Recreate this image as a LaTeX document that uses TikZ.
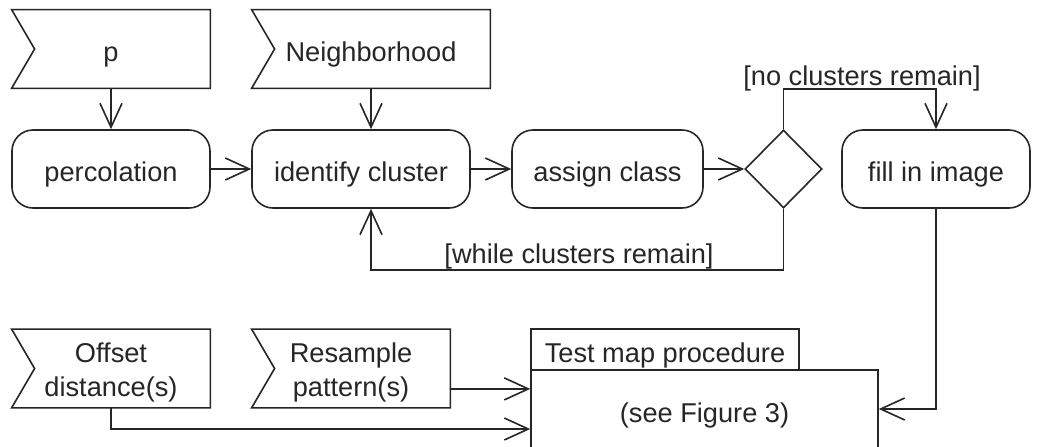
\documentclass[tikz,border=0pt]{standalone}
\usepackage{fontspec}
\setmainfont{Liberation Sans}
\usetikzlibrary{arrows.meta,shapes.geometric,calc}
\definecolor{ink}{HTML}{262626}
\begin{document}
\begin{tikzpicture}[x=0.5pt,y=-0.5pt,
  every node/.style={font=\fontsize{13.6}{17}\selectfont, text=ink, inner sep=0pt},
  one/.style={text height=13.5pt, text depth=1pt},
  line/.style={draw=ink, line width=0.8pt},
  arr/.style={line, -{Straight Barb[length=12pt,width=11pt,line width=0.8pt]}},
  sig/.style={minimum height=39pt, align=center},
  act/.style={line, one, rounded corners=10.5pt, minimum height=39pt},
  dec/.style={line, diamond, minimum width=38.5pt, minimum height=39pt},
  lbl/.style={one}
]
\clip (0,0) rectangle (1039,446);
\fill[white] (0,0) rectangle (1039,446);

% signal (input) boxes
\node[sig, one, minimum width=99pt] (p) at (111,49) {p};
\node[sig, one, minimum width=119pt] (nb) at (371,49) {Neighborhood};
\node[sig, minimum width=99pt] (off) at (111,368.5) {};
\node[sig, minimum width=99pt] (res) at (351,368.5) {};
\node[align=center] (offt) at (111,372.5) {Offset\\distance(s)};
\node[align=center] (rest) at (351,372.5) {Resample\\pattern(s)};
\foreach \n in {p,nb,off,res}
  \draw[line] (\n.north west) -- (\n.north east) -- (\n.south east) -- (\n.south west) -- ($(\n.west)+(23,0)$) -- cycle;

% actions
\node[act, minimum width=99pt] (perc) at (111,169) {percolation};
\node[act, minimum width=109pt] (idc) at (361,169) {identify cluster};
\node[act, minimum width=95.5pt] (asg) at (607.5,169) {assign class};
\node[dec] (d) at (783.5,169) {};
\node[act, minimum width=94pt] (fill) at (936,169) {fill in image};

% test map procedure
\node[line, one, minimum width=134pt, minimum height=20.5pt] (tab) at (665,349.5) {Test map procedure};
\node[line, minimum width=173.5pt, minimum height=39pt] (tm) at (704.5,409) {};
\node[one] (tmt) at (704.5,410) {(see Figure 3)};

% connectors
\draw[arr] (p.south) -- (perc.north);
\draw[arr] (nb.south) -- (nb.south |- idc.north);
\draw[arr] (perc.east) -- (idc.west);
\draw[arr] (idc.east) -- (asg.west);
\draw[arr] (asg.east) -- (d.west);
\draw[arr] (d.north) -- ++(0,-40) -| (fill.north);
\draw[arr] (d.south) -- ++(0,61) -| (nb.south |- idc.south);
\node[lbl] (l1) at (862,73) {[no clusters remain]};
\node[lbl] (l2) at (579,251) {[while clusters remain]};
\draw[arr] (fill.south) |- (tm.east);
\draw[arr] ([yshift=9.5pt]res.south east) -- ([yshift=9.5pt]res.south east -| tm.west);
\draw[arr] (off.south) |- ($(tm.west)+(0,20)$);
\end{tikzpicture}
\end{document}
